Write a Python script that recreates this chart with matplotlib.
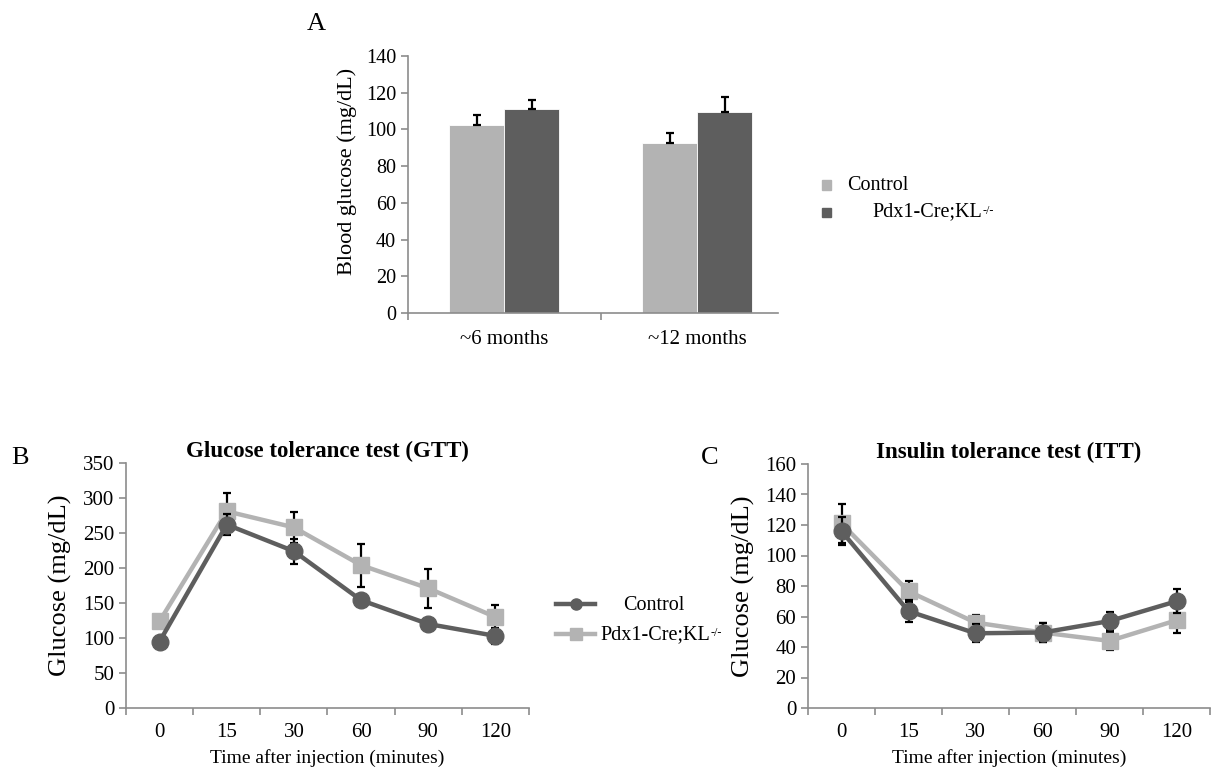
import matplotlib
matplotlib.use("Agg")
import matplotlib.pyplot as plt
import numpy as np
from matplotlib.lines import Line2D
from matplotlib.patches import Rectangle

plt.rcParams['font.family'] = ['Liberation Serif', 'DejaVu Serif']

# ---------------- data ----------------
groups_A = ["~6 months", "~12 months"]
ctrl_A = [102.5, 92.5]
ctrl_A_err = [5.5, 5.5]
ko_A = [111, 109.5]
ko_A_err = [5, 8]

times = ["0", "15", "30", "60", "90", "120"]
gtt_ctrl = [95, 262, 224, 154, 120, 103]
gtt_ctrl_err = [3, 15, 18, 8, 4, 12]
gtt_ko = [124, 281, 258, 204, 171, 130]
gtt_ko_err = [3, 26, 22, 31, 28, 17]

itt_ctrl = [116, 63.5, 49, 49.5, 57, 70]
itt_ctrl_err = [9, 7, 6, 6, 6, 8]
itt_ko = [121, 76.5, 56, 49.5, 44, 57.5]
itt_ko_err = [13, 7, 5, 6, 6, 8]

LIGHT = '#b3b3b3'
DARK = '#5e5e5e'
AXC = '#8c8c8c'
W, H = 1212, 772
fig = plt.figure(figsize=(W / 100, H / 100), dpi=100)
renderer = fig.canvas.get_renderer()

def fx(px):
    return px / W

def fy(py):
    return 1 - py / H

def ko_text(x, y, fs):
    t = fig.text(x, y, 'Pdx1-Cre;KL', fontsize=fs, va='center', ha='left')
    bb = t.get_window_extent(renderer=renderer)
    fig.text(fx(bb.x1 + 1), fy(H - bb.y1 + 2), '-/-', fontsize=fs * 0.6,
             va='top', ha='left')

def style_axes(ax, fs):
    for s in ['top', 'right']:
        ax.spines[s].set_visible(False)
    for s in ['left', 'bottom']:
        ax.spines[s].set_color(AXC)
        ax.spines[s].set_linewidth(1.2)
    ax.tick_params(axis='y', colors=AXC, labelcolor='black', length=5,
                   width=1.2, labelsize=fs)
    ax.tick_params(axis='x', which='major', length=0, labelsize=fs,
                   labelcolor='black', pad=11)
    ax.tick_params(axis='x', which='minor', length=5, width=1.2, colors=AXC)

ekw = dict(ecolor='black', elinewidth=1.6, capsize=3, capthick=1.6)

# ---------------- Panel A ----------------
axA = fig.add_axes([fx(408), fy(313), fx(778 - 408), fy(56) - fy(313)])
xA = np.arange(len(groups_A))
bw = 0.285
axA.bar(xA - bw / 2, ctrl_A, bw, color=LIGHT, edgecolor='white', linewidth=0.6,
        yerr=[np.zeros(2), ctrl_A_err], error_kw=ekw, zorder=2)
axA.bar(xA + bw / 2, ko_A, bw, color=DARK, edgecolor='white', linewidth=0.6,
        yerr=[np.zeros(2), ko_A_err], error_kw=ekw, zorder=2)
axA.set_xlim(-0.5, 1.42)
axA.set_ylim(0, 140)
axA.set_yticks(range(0, 141, 20))
axA.set_xticks(xA)
axA.set_xticklabels(groups_A)
axA.set_xticks([-0.5, 0.5], minor=True)
style_axes(axA, 14.5)
axA.tick_params(axis='x', which='major', labelsize=15, pad=12)
axA.set_ylabel('Blood glucose (mg/dL)', fontsize=16)
axA.yaxis.set_label_coords(-0.138, 0.55)

# legend A
for py, col in [(185, LIGHT), (212, DARK)]:
    fig.add_artist(Rectangle((fx(822), fy(py + 4.5)), fx(9), fy(py - 4.5) - fy(py + 4.5),
                             transform=fig.transFigure, color=col))
fig.text(fx(847), fy(185), 'Control', fontsize=14.5, va='center', ha='left')
ko_text(fx(872), fy(212), 14.5)

fig.text(fx(316), fy(24), 'A', fontsize=19, ha='center', va='center')

# ---------------- Panel B / C ----------------
def line_panel(rect, ctrl, cerr, ko, kerr, ymax, ystep, title, lx):
    ax = fig.add_axes(rect)
    x = np.arange(len(times))
    ax.errorbar(x, ko, yerr=kerr, color=LIGHT, lw=3.2, marker='s', ms=12,
                zorder=2, **ekw)
    ax.errorbar(x, ctrl, yerr=cerr, color=DARK, lw=3.2, marker='o', ms=12,
                zorder=3, **ekw)
    ax.set_xlim(-0.5, len(times) - 0.5)
    ax.set_ylim(0, ymax)
    ax.set_yticks(np.arange(0, ymax + 1, ystep))
    ax.set_xticks(x)
    ax.set_xticklabels(times)
    ax.set_xticks(np.arange(-0.5, len(times) - 0.4, 1), minor=True)
    style_axes(ax, 15)
    ax.set_ylabel('Glucose (mg/dL)', fontsize=19)
    ax.yaxis.set_label_coords(lx, 0.5)
    ax.set_xlabel('Time after injection (minutes)', fontsize=14, labelpad=5)
    ax.set_title(title, fontsize=16.5, fontweight='bold', pad=4)
    return ax

axB = line_panel([fx(126), fy(708), fx(529 - 126), fy(463) - fy(708)],
                 gtt_ctrl, gtt_ctrl_err, gtt_ko, gtt_ko_err, 350, 50,
                 'Glucose tolerance test (GTT)', -0.134)
axC = line_panel([fx(808), fy(708), fx(1210 - 808), fy(464) - fy(708)],
                 itt_ctrl, itt_ctrl_err, itt_ko, itt_ko_err, 160, 20,
                 'Insulin tolerance test (ITT)', -0.132)

# legend B (lines)
for py, col, mk in [(604, DARK, 'o'), (634, LIGHT, 's')]:
    fig.add_artist(Line2D([fx(556), fx(595)], [fy(py), fy(py)], transform=fig.transFigure,
                          color=col, lw=3.2))
    fig.add_artist(Line2D([fx(575.5)], [fy(py)], transform=fig.transFigure,
                          color=col, marker=mk, ms=8, lw=0))
fig.text(fx(623), fy(605), 'Control', fontsize=14.5, va='center', ha='left')
ko_text(fx(600), fy(635), 14.5)

fig.text(fx(20), fy(458), 'B', fontsize=19, ha='center', va='center')
fig.text(fx(710), fy(458), 'C', fontsize=19, ha='center', va='center')

fig.savefig('out.png', dpi=100)
